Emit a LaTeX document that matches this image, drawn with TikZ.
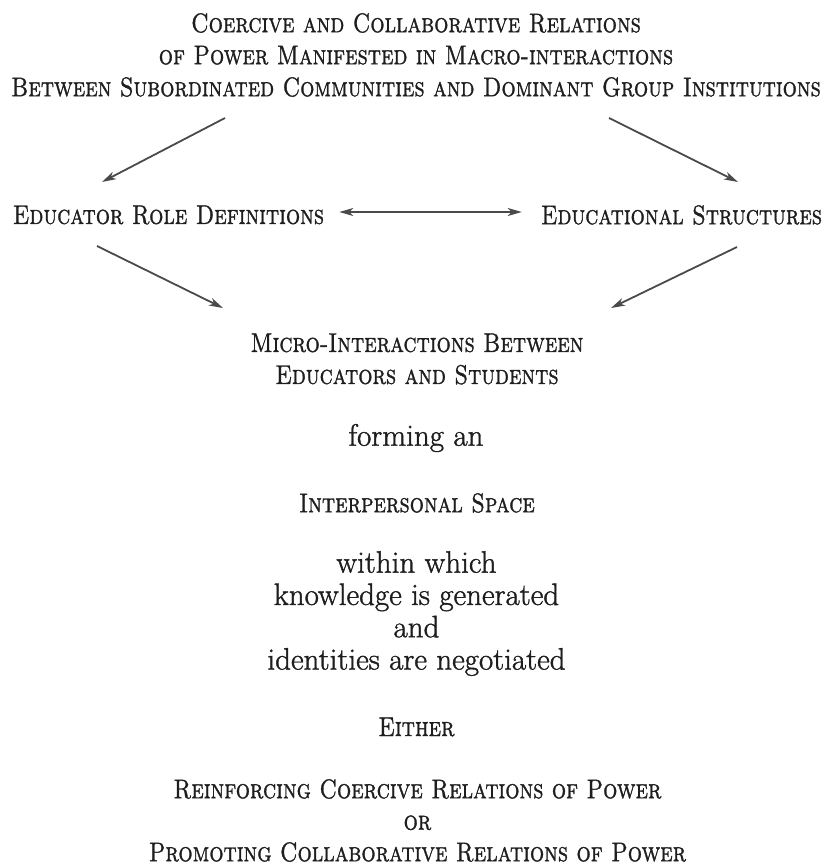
\documentclass[tikz,border=0pt]{standalone}
\usepackage{fontspec}
\setmainfont{Latin Modern Roman}[FakeBold=1.2, SmallCapsFont={Latin Modern Roman Caps}, SmallCapsFeatures={FakeBold=1.2}]
\usepackage{graphicx}
\usetikzlibrary{arrows.meta}
\newcommand{\scx}{0.86}
\newcommand{\SCt}[1]{\scalebox{\scx}[1.04]{\textsc{#1}}}
\definecolor{inkc}{HTML}{1E1E1E}
\definecolor{arrc}{HTML}{4A4A4A}
\tikzset{
  sctext/.style={inner sep=0pt, align=center, text=inkc, font=\fontsize{26}{32}\selectfont},
  rmtext/.style={inner sep=0pt, align=center, text=inkc, font=\fontsize{31}{32.3}\selectfont},
  flow/.style={draw=arrc, line width=1.8pt, -{Stealth[length=14pt,width=8pt,inset=4pt]}},
  flowboth/.style={draw=arrc, line width=1.8pt, {Stealth[length=14pt,width=8pt,inset=4pt]}-{Stealth[length=14pt,width=8pt,inset=4pt]}}
}
\begin{document}
\begin{tikzpicture}[x=1pt,y=-1pt]
\useasboundingbox[fill=white] (0,0) rectangle (827,865);
\node[sctext] (title) at (416,55) {\SCt{Coercive and Collaborative Relations}\\\SCt{of Power Manifested in Macro-interactions}\\\SCt{Between Subordinated Communities and Dominant Group Institutions}};
\node[sctext] (erd) at (168.5,215) {\SCt{Educator Role Definitions}};
\node[sctext] (es) at (681.5,215) {\SCt{Educational Structures}};
\node[sctext] (micro) at (417,359) {\SCt{Micro-Interactions Between}\\\SCt{Educators and Students}};
\node[rmtext] (forming) at (416,438) {forming an};
\node[sctext] (space) at (417,503) {\SCt{Interpersonal Space}};
\node[rmtext] (within) at (416.5,613.5) {within which\\knowledge is generated\\and\\identities are negotiated};
\node[sctext] (either) at (416.5,727) {\SCt{Either}};
\node[sctext, font=\fontsize{26}{31.5}\selectfont] (final) at (417.5,820.5) {\SCt{Reinforcing Coercive Relations of Power}\\\SCt{or}\\\SCt{Promoting Collaborative Relations of Power}};
\coordinate (tlA) at (225,118);
\coordinate (tlB) at (102,182);
\coordinate (trA) at (609,118);
\coordinate (trB) at (738,182);
\coordinate (llA) at (97,246);
\coordinate (llB) at (223,308);
\coordinate (lrA) at (737,247);
\coordinate (lrB) at (611,308);
\draw[flow] (tlA) -- (tlB);
\draw[flow] (trA) -- (trB);
\draw[flow] (llA) -- (llB);
\draw[flow] (lrA) -- (lrB);
\draw[flowboth, shorten <=15pt, shorten >=19pt] ([yshift=3pt]erd.east) -- ([yshift=3pt]es.west);
\end{tikzpicture}
\end{document}
